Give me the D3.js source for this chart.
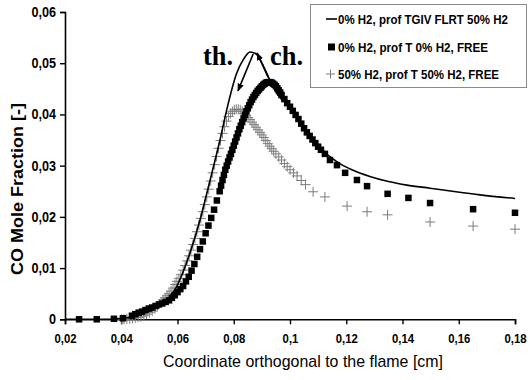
<!DOCTYPE html>
<html><head><meta charset="utf-8">
<script src="https://cdn.jsdelivr.net/npm/d3@7"></script>
<style>body{margin:0;background:#fff}svg{display:block}</style>
</head><body>
<svg id="c" width="530" height="380"></svg>
<script>
// ---------- data ----------
const xTicks = [0.02,0.04,0.06,0.08,0.10,0.12,0.14,0.16,0.18];
const xTickLabels = ["0,02","0,04","0,06","0,08","0,1","0,12","0,14","0,16","0,18"];
const yTicks = [0,0.01,0.02,0.03,0.04,0.05,0.06];
const yTickLabels = ["0","0,01","0,02","0,03","0,04","0,05","0,06"];
const seriesNames = ["0% H2, prof TGIV FLRT 50% H2","0% H2, prof T 0% H2, FREE","50% H2, prof T 50% H2, FREE"];

// solid line: 0% H2, prof TGIV FLRT 50% H2
const lineData = [
 [0.020,0.0000],[0.035,0.0000],[0.040,0.0002],[0.045,0.0006],[0.050,0.0016],[0.055,0.0031],
 [0.0597,0.0064],[0.0644,0.0129],[0.068,0.0194],[0.0716,0.0272],[0.0751,0.0350],[0.0775,0.0409],
 [0.081,0.0480],[0.0835,0.0508],[0.0858,0.0522],[0.088,0.0518],[0.0905,0.0495],[0.093,0.0465],
 [0.0955,0.0440],[0.100,0.0413],[0.1046,0.0376],[0.1096,0.0342],[0.1124,0.0326],[0.1150,0.0314],
 [0.1180,0.0303],[0.1220,0.0292],[0.1284,0.0279],[0.1350,0.0269],[0.1416,0.0262],[0.1498,0.0256],
 [0.1590,0.0249],[0.1676,0.0243],[0.1800,0.0236]
];

// black squares: 0% H2, prof T 0% H2, FREE
const squareData = [
 [0.0250,0.0000],[0.0313,0.0000],[0.0374,0.0001],[0.0406,0.0002],[0.0438,0.0007],[0.0450,0.0010],
 [0.0462,0.0013],[0.0474,0.0015],[0.0486,0.0018],[0.0498,0.0021],[0.0510,0.0023],[0.0522,0.0026],
 [0.0534,0.0029],[0.0546,0.0031],[0.0558,0.0034],[0.0570,0.0037],[0.0580,0.0042],[0.0590,0.0047],
 [0.0600,0.0053],[0.0610,0.0059],[0.0620,0.0065],[0.0630,0.0074],[0.0640,0.0083],[0.0650,0.0095],
 [0.0660,0.0108],[0.0670,0.0122],[0.0680,0.0137],[0.0690,0.0152],[0.0700,0.0168],[0.0710,0.0183],
 [0.0720,0.0198],[0.0730,0.0214],[0.0740,0.0232],[0.0750,0.0250],[0.0755,0.0261],[0.0760,0.0272],
 [0.0765,0.0282],[0.0770,0.0292],[0.0775,0.0300],[0.0780,0.0308],[0.0785,0.0316],[0.0790,0.0323],
 [0.0795,0.0331],[0.0800,0.0339],[0.0805,0.0347],[0.0810,0.0355],[0.0815,0.0363],[0.0820,0.0371],
 [0.0825,0.0378],[0.0830,0.0385],[0.0835,0.0392],[0.0840,0.0399],[0.0845,0.0406],[0.0850,0.0412],
 [0.0855,0.0418],[0.0860,0.0424],[0.0865,0.0429],[0.0870,0.0434],[0.0875,0.0438],[0.0880,0.0442],
 [0.0885,0.0446],[0.0890,0.0449],[0.0895,0.0452],[0.0900,0.0455],[0.0905,0.0458],[0.0910,0.0460],
 [0.0915,0.0462],[0.0920,0.0463],[0.0925,0.0463],[0.0930,0.0463],[0.0935,0.0462],[0.0940,0.0460],
 [0.0945,0.0458],[0.0950,0.0455],[0.0955,0.0451],[0.0960,0.0447],[0.0965,0.0443],[0.0970,0.0438],
 [0.0980,0.0430],[0.0990,0.0422],[0.1000,0.0415],[0.1010,0.0407],[0.1020,0.0399],[0.1030,0.0391],
 [0.1040,0.0382],[0.1050,0.0373],[0.1060,0.0365],[0.1070,0.0358],[0.1080,0.0351],[0.1090,0.0344],
 [0.1100,0.0337],[0.1110,0.0331],[0.1124,0.0323],[0.1142,0.0311],[0.1167,0.0301],[0.1196,0.0286],
 [0.1238,0.0272],[0.1274,0.0260],[0.1347,0.0245],[0.1421,0.0237],[0.1498,0.0227],[0.1651,0.0215],
 [0.1800,0.0208]
];

// grey crosses: 50% H2, prof T 50% H2, FREE
const crossData = [
 [0.0400,0.0000],[0.0410,0.0000],[0.0420,0.0001],[0.0430,0.0001],[0.0440,0.0002],[0.0450,0.0003],
 [0.0460,0.0004],[0.0470,0.0005],[0.0480,0.0007],[0.0490,0.0010],[0.0500,0.0013],[0.0510,0.0016],
 [0.0520,0.0021],[0.0528,0.0025],[0.0535,0.0030],[0.0542,0.0034],[0.0549,0.0038],[0.0556,0.0042],
 [0.0563,0.0046],[0.0570,0.0050],[0.0577,0.0055],[0.0584,0.0061],[0.0591,0.0068],[0.0598,0.0074],
 [0.0605,0.0080],[0.0612,0.0087],[0.0620,0.0096],[0.0627,0.0105],[0.0634,0.0114],[0.0641,0.0124],
 [0.0648,0.0135],[0.0655,0.0146],[0.0662,0.0158],[0.0669,0.0171],[0.0676,0.0184],[0.0683,0.0197],
 [0.0690,0.0210],[0.0697,0.0224],[0.0704,0.0239],[0.0711,0.0254],[0.0718,0.0270],[0.0725,0.0286],
 [0.0732,0.0302],[0.0739,0.0318],[0.0746,0.0334],[0.0753,0.0349],[0.0760,0.0363],[0.0767,0.0376],
 [0.0774,0.0387],[0.0781,0.0396],[0.0788,0.0402],[0.0795,0.0406],[0.0802,0.0409],[0.0809,0.0410],
 [0.0816,0.0410],[0.0823,0.0409],[0.0830,0.0406],[0.0837,0.0402],[0.0844,0.0398],[0.0851,0.0394],
 [0.0858,0.0390],[0.0865,0.0385],[0.0872,0.0380],[0.0879,0.0375],[0.0886,0.0370],[0.0893,0.0365],
 [0.0900,0.0360],[0.0907,0.0355],[0.0914,0.0349],[0.0921,0.0343],[0.0928,0.0338],[0.0935,0.0333],
 [0.0942,0.0328],[0.0950,0.0323],[0.0960,0.0317],[0.0970,0.0311],[0.0980,0.0304],[0.0990,0.0298],
 [0.1000,0.0292],[0.1012,0.0286],[0.1025,0.0280],[0.1040,0.0271],[0.1055,0.0263],[0.1082,0.0249],
 [0.1124,0.0239],[0.1203,0.0221],[0.1274,0.0210],[0.1347,0.0204],[0.1498,0.0190],[0.1651,0.0182],
 [0.1800,0.0176]
];

// annotations (data space)
const arrows = [
 {from:[0.0869,0.0518], to:[0.0815,0.0446]},
 {from:[0.0922,0.0473], to:[0.0883,0.0520]}
];
const notes = [{t:"th.", at:[0.0691,0.0497], w:30},{t:"ch.", at:[0.0929,0.0497], w:33}];

// ---------- drawing ----------
const svg = d3.select("#c");
const x = d3.scaleLinear().domain([0.02,0.18]).range([65,515]);
const y = d3.scaleLinear().domain([0,0.06]).range([319.3,12]);
const FONT = "'Liberation Sans', Arial, sans-serif";

const defs = svg.append("defs");
defs.append("marker").attr("id","ah").attr("viewBox","0 0 10 10").attr("refX",9).attr("refY",5)
  .attr("markerWidth",8).attr("markerHeight",8).attr("markerUnits","userSpaceOnUse").attr("orient","auto")
  .append("path").attr("d","M0,1 L10,5 L0,9 Z").attr("fill","#000");

// axes
const yAxis = d3.axisLeft(y).tickValues(yTicks).tickFormat((d,i)=>yTickLabels[i]).tickSizeOuter(0).tickSize(5).tickPadding(4);
const xAxis = d3.axisBottom(x).tickValues(xTicks).tickFormat((d,i)=>xTickLabels[i]).tickSizeOuter(0).tickSize(5).tickPadding(9);
const gy = svg.append("g").attr("transform","translate(65,0)").call(yAxis);
const gx = svg.append("g").attr("transform","translate(0,319.3)").call(xAxis);
[[gx,13.5,0.84],[gy,14,0.9]].forEach(([g,fs,k])=>{
  g.select(".domain").attr("stroke","#000").attr("stroke-width",1.6);
  g.selectAll(".tick line").attr("stroke","#000").attr("stroke-width",1.4);
  g.selectAll(".tick text").attr("fill","#000").style("font-family",FONT).style("font-weight","bold").style("font-size",fs+"px")
    .each(function(){ const w=this.getComputedTextLength(); d3.select(this).attr("textLength",w*k).attr("lengthAdjust","spacingAndGlyphs"); });
});

// axis titles
svg.append("text").attr("x",303).attr("y",367).attr("text-anchor","middle")
  .attr("textLength",280).attr("lengthAdjust","spacingAndGlyphs")
  .style("font-family",FONT).style("font-size","17px").attr("fill","#000")
  .text("Coordinate orthogonal to the flame [cm]");
svg.append("text").attr("transform","translate(23,189) rotate(-90)").attr("text-anchor","middle")
  .attr("textLength",172).attr("lengthAdjust","spacingAndGlyphs")
  .style("font-family",FONT).style("font-weight","bold").style("font-size","17px").attr("fill","#000")
  .text("CO Mole Fraction [-]");

// crosses
const cs = 5;
svg.append("g").selectAll("path.cr").data(crossData).join("path")
  .attr("d",d=>{const px=x(d[0]),py=y(d[1]);return `M${px-cs},${py}H${px+cs}M${px},${py-cs}V${py+cs}`;})
  .attr("stroke","#7d7d7d").attr("stroke-width",1).attr("fill","none");

// squares
const sq = 6.5;
svg.append("g").selectAll("rect").data(squareData).join("rect")
  .attr("x",d=>x(d[0])-sq/2).attr("y",d=>y(d[1])-sq/2).attr("width",sq).attr("height",sq).attr("fill","#000");

// line
svg.append("path").datum(lineData)
  .attr("d",d3.line().x(d=>x(d[0])).y(d=>y(d[1])).curve(d3.curveMonotoneX))
  .attr("fill","none").attr("stroke","#000").attr("stroke-width",1.6);

// arrows
svg.append("g").selectAll("line").data(arrows).join("line")
  .attr("x1",d=>x(d.from[0])).attr("y1",d=>y(d.from[1]))
  .attr("x2",d=>x(d.to[0])).attr("y2",d=>y(d.to[1]))
  .attr("stroke","#000").attr("stroke-width",1.6).attr("marker-end","url(#ah)");

// annotation text
svg.append("g").selectAll("text").data(notes).join("text")
  .attr("x",d=>x(d.at[0])).attr("y",d=>y(d.at[1]))
  .attr("textLength",d=>d.w).attr("lengthAdjust","spacingAndGlyphs")
  .style("font-family","'Liberation Serif','Times New Roman',serif").style("font-weight","bold").style("font-size","28px")
  .attr("fill","#000").text(d=>d.t);

// legend
const lg = svg.append("g");
lg.append("rect").attr("x",310.5).attr("y",4.5).attr("width",216).attr("height",83)
  .attr("fill","#fff").attr("stroke","#8a8a8a").attr("stroke-width",1);
const ly = [19,47,74];
const lw = [170,150,161];
lg.append("line").attr("x1",326).attr("x2",337).attr("y1",ly[0]).attr("y2",ly[0]).attr("stroke","#000").attr("stroke-width",1.6);
lg.append("rect").attr("x",328).attr("y",ly[1]-3.5).attr("width",7).attr("height",7).attr("fill","#000");
lg.append("path").attr("d",`M${326},${ly[2]}H${335}M${330.5},${ly[2]-4.5}V${ly[2]+4.5}`).attr("stroke","#7d7d7d").attr("stroke-width",1).attr("fill","none");
lg.selectAll("text").data(seriesNames).join("text")
  .attr("x",338).attr("y",(d,i)=>ly[i]+4.5)
  .attr("textLength",(d,i)=>lw[i]).attr("lengthAdjust","spacingAndGlyphs")
  .style("font-family",FONT).style("font-weight","bold").style("font-size","13px").attr("fill","#000")
  .text(d=>d);
</script>
</body></html>
